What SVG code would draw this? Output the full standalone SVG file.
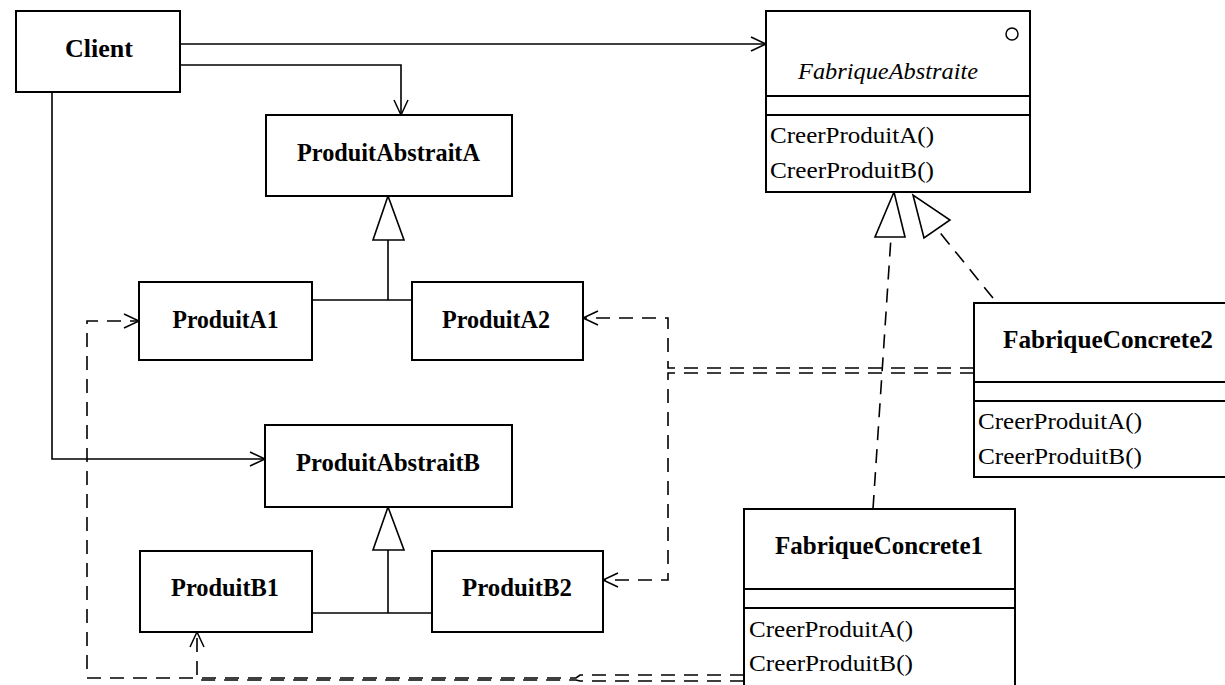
<svg xmlns="http://www.w3.org/2000/svg" width="1225" height="685" viewBox="0 0 1225 685">
<style>
.box{fill:#fff;stroke:#000;stroke-width:2}
.sep{stroke:#000;stroke-width:2}
.name{font-family:"Liberation Serif","Times New Roman",serif;font-weight:bold;font-size:25px;text-anchor:middle;fill:#000}
.ital{font-family:"Liberation Serif","Times New Roman",serif;font-style:italic;font-size:24px;text-anchor:middle;fill:#000}
.meth{font-family:"Liberation Serif","Times New Roman",serif;font-size:23px;fill:#000}
.ln{fill:none;stroke:#000;stroke-width:1.6}
.dash{fill:none;stroke:#000;stroke-width:1.6;stroke-dasharray:14 9}
.tri{fill:#fff;stroke:#000;stroke-width:1.6}
</style>
<defs>
<marker id="open" viewBox="0 0 18 18" refX="16" refY="9" markerWidth="18" markerHeight="18" markerUnits="userSpaceOnUse" orient="auto">
<path d="M1,2 L16,9 L1,16" fill="none" stroke="#000" stroke-width="1.5"/>
</marker>
</defs>
<rect width="1225" height="685" fill="#fff"/>

<g id="connectors">
<polyline class="ln" points="180,44 766,44" marker-end="url(#open)"/>
<polyline class="ln" points="180,65 401,65 401,115" marker-end="url(#open)"/>
<polyline class="ln" points="52,92 52,459 265,459" marker-end="url(#open)"/>
<polyline class="ln" points="312,300 412,300"/>
<line class="ln" x1="388" y1="240" x2="388" y2="300"/>
<polygon class="tri" points="388,196 373,240 404,240"/>
<polyline class="ln" points="312,613 432,613"/>
<line class="ln" x1="388" y1="550" x2="388" y2="613"/>
<polygon class="tri" points="388,507 373,550 404,550"/>
<line class="dash" x1="873" y1="509" x2="891" y2="237"/>
<polygon class="tri" points="894,192 875,237 905,237"/>
<line class="dash" x1="993" y1="298" x2="937" y2="229"/>
<polygon class="tri" points="913,195 924,238 950,220"/>
<polyline class="dash" points="974,368 668,368 668,318 583,318" marker-end="url(#open)"/>
<polyline class="dash" points="974,373 668,373 668,580 603,580" marker-end="url(#open)"/>
<polyline class="dash" points="744,675 580,675 576,678 87,678 87,321 139,321" marker-end="url(#open)"/>
<polyline class="dash" points="744,681 580,681 576,680 197,680 197,632" marker-end="url(#open)"/>
</g>

<g id="client">
<rect class="box" x="16" y="11" width="164" height="81"/>
<text class="name" x="99" y="57" textLength="68" lengthAdjust="spacingAndGlyphs">Client</text>
</g>

<g id="fabriqueAbstraite">
<rect class="box" x="766" y="11" width="264" height="181"/>
<line class="sep" x1="766" y1="96" x2="1030" y2="96"/>
<line class="sep" x1="766" y1="115" x2="1030" y2="115"/>
<circle cx="1012" cy="34" r="6" fill="none" stroke="#000" stroke-width="1.5"/>
<text class="ital" x="888" y="79" textLength="180" lengthAdjust="spacingAndGlyphs">FabriqueAbstraite</text>
<text class="meth" x="770" y="143" textLength="164" lengthAdjust="spacingAndGlyphs">CreerProduitA()</text>
<text class="meth" x="770" y="178" textLength="164" lengthAdjust="spacingAndGlyphs">CreerProduitB()</text>
</g>

<g id="produitAbstraitA">
<rect class="box" x="266" y="115" width="246" height="81"/>
<text class="name" x="388.5" y="161" textLength="183" lengthAdjust="spacingAndGlyphs">ProduitAbstraitA</text>
</g>

<g id="produitA1">
<rect class="box" x="139" y="282" width="173" height="78"/>
<text class="name" x="225.5" y="328" textLength="106" lengthAdjust="spacingAndGlyphs">ProduitA1</text>
</g>

<g id="produitA2">
<rect class="box" x="412" y="282" width="171" height="78"/>
<text class="name" x="496" y="328" textLength="108" lengthAdjust="spacingAndGlyphs">ProduitA2</text>
</g>

<g id="produitAbstraitB">
<rect class="box" x="265" y="425" width="247" height="82"/>
<text class="name" x="388" y="471" textLength="184" lengthAdjust="spacingAndGlyphs">ProduitAbstraitB</text>
</g>

<g id="produitB1">
<rect class="box" x="140" y="551" width="172" height="81"/>
<text class="name" x="225" y="596" textLength="108" lengthAdjust="spacingAndGlyphs">ProduitB1</text>
</g>

<g id="produitB2">
<rect class="box" x="432" y="551" width="171" height="81"/>
<text class="name" x="517" y="596" textLength="110" lengthAdjust="spacingAndGlyphs">ProduitB2</text>
</g>

<g id="fabriqueConcrete2">
<rect class="box" x="974" y="303" width="260" height="174"/>
<line class="sep" x1="974" y1="382" x2="1234" y2="382"/>
<line class="sep" x1="974" y1="401" x2="1234" y2="401"/>
<text class="name" x="1108" y="348" textLength="210" lengthAdjust="spacingAndGlyphs">FabriqueConcrete2</text>
<text class="meth" x="978" y="429" textLength="164" lengthAdjust="spacingAndGlyphs">CreerProduitA()</text>
<text class="meth" x="978" y="464" textLength="164" lengthAdjust="spacingAndGlyphs">CreerProduitB()</text>
</g>

<g id="fabriqueConcrete1">
<rect class="box" x="744" y="509" width="271" height="190"/>
<line class="sep" x1="744" y1="589" x2="1015" y2="589"/>
<line class="sep" x1="744" y1="608" x2="1015" y2="608"/>
<text class="name" x="879" y="554" textLength="208" lengthAdjust="spacingAndGlyphs">FabriqueConcrete1</text>
<text class="meth" x="749" y="637" textLength="164" lengthAdjust="spacingAndGlyphs">CreerProduitA()</text>
<text class="meth" x="749" y="671" textLength="164" lengthAdjust="spacingAndGlyphs">CreerProduitB()</text>
</g>
</svg>
